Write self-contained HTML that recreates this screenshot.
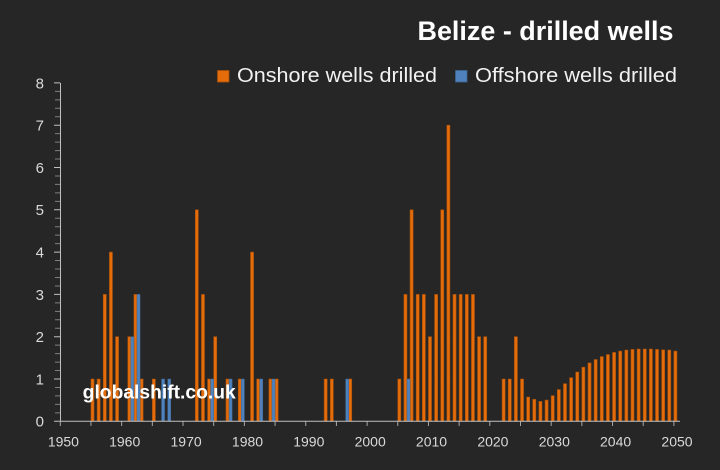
<!DOCTYPE html>
<html><head><meta charset="utf-8"><style>
html,body{margin:0;padding:0;background:#262626;}
svg{display:block;}
text{font-family:"Liberation Sans",sans-serif;}
</style></head><body>
<svg width="720" height="470" viewBox="0 0 720 470" xmlns="http://www.w3.org/2000/svg">
<rect x="0" y="0" width="720" height="470" fill="#262626"/>
<text x="673.5" y="40" text-anchor="end" font-size="27" font-weight="bold" fill="#ffffff" textLength="256" lengthAdjust="spacingAndGlyphs">Belize - drilled wells</text>
<rect x="217.5" y="70.5" width="11.5" height="11.5" fill="#E46C0A" stroke="#A84F08" stroke-width="0.8"/>
<text x="237" y="82" font-size="20" fill="#f2f2f2" textLength="200" lengthAdjust="spacingAndGlyphs">Onshore wells drilled</text>
<rect x="455.5" y="70.5" width="11.5" height="11.5" fill="#4F81BD" stroke="#3C6590" stroke-width="0.8"/>
<text x="475" y="82" font-size="20" fill="#f2f2f2" textLength="202" lengthAdjust="spacingAndGlyphs">Offshore wells drilled</text>
<g font-size="15" fill="#d9d9d9" text-anchor="end">
<text x="44" y="426.7">0</text><text x="44" y="384.4">1</text><text x="44" y="342.1">2</text>
<text x="44" y="299.8">3</text><text x="44" y="257.5">4</text><text x="44" y="215.2">5</text>
<text x="44" y="172.9">6</text><text x="44" y="130.6">7</text><text x="44" y="88.3">8</text>
</g>
<g font-size="14" fill="#d9d9d9" text-anchor="middle">
<text x="63.4" y="446.7">1950</text><text x="124.7" y="446.7">1960</text><text x="186.1" y="446.7">1970</text>
<text x="247.5" y="446.7">1980</text><text x="308.8" y="446.7">1990</text><text x="370.2" y="446.7">2000</text>
<text x="431.5" y="446.7">2010</text><text x="492.9" y="446.7">2020</text><text x="554.3" y="446.7">2030</text>
<text x="615.6" y="446.7">2040</text><text x="677" y="446.7">2050</text>
</g>
<path stroke="#7f7f7f" stroke-width="1" fill="none" d="M55,412.84H60M55,404.38H60M55,395.92H60M55,387.46H60M55,370.54H60M55,362.08H60M55,353.62H60M55,345.16H60M55,328.24H60M55,319.78H60M55,311.32H60M55,302.86H60M55,285.94H60M55,277.48H60M55,269.02H60M55,260.56H60M55,243.64H60M55,235.18H60M55,226.72H60M55,218.26H60M55,201.34H60M55,192.88H60M55,184.42H60M55,175.96H60M55,159.04H60M55,150.58H60M55,142.12H60M55,133.66H60M55,116.74H60M55,108.28H60M55,99.82H60M55,91.36H60"/>
<path stroke="#bfbfbf" stroke-width="1" fill="none" d="M54,421.3H60M54,379H60M54,336.7H60M54,294.4H60M54,252.1H60M54,209.8H60M54,167.5H60M54,125.2H60M54,82.9H60"/>
<path stroke="#a6a6a6" stroke-width="1" fill="none" d="M60.3,421V426M90.98,421V426M121.66,421V426M152.34,421V426M183.02,421V426M213.7,421V426M244.38,421V426M275.06,421V426M305.74,421V426M336.42,421V426M367.1,421V426M397.78,421V426M428.46,421V426M459.14,421V426M489.82,421V426M520.5,421V426M551.18,421V426M581.86,421V426M612.54,421V426M643.22,421V426M673.9,421V426"/>
<path fill="#E46C0A" stroke="#A84F08" stroke-width="0.6" d="M90.98,379h3.07V421.3h-3.07ZM97.12,379h3.07V421.3h-3.07ZM103.25,294.4h3.07V421.3h-3.07ZM109.39,252.1h3.07V421.3h-3.07ZM115.52,336.7h3.07V421.3h-3.07ZM127.8,336.7h3.07V421.3h-3.07ZM133.93,294.4h3.07V421.3h-3.07ZM140.07,379h3.07V421.3h-3.07ZM152.34,379h3.07V421.3h-3.07ZM195.29,209.8h3.07V421.3h-3.07ZM201.43,294.4h3.07V421.3h-3.07ZM207.56,379h3.07V421.3h-3.07ZM213.7,336.7h3.07V421.3h-3.07ZM225.97,379h3.07V421.3h-3.07ZM238.24,379h3.07V421.3h-3.07ZM250.52,252.1h3.07V421.3h-3.07ZM256.65,379h3.07V421.3h-3.07ZM268.92,379h3.07V421.3h-3.07ZM275.06,379h3.07V421.3h-3.07ZM324.15,379h3.07V421.3h-3.07ZM330.28,379h3.07V421.3h-3.07ZM348.69,379h3.07V421.3h-3.07ZM397.78,379h3.07V421.3h-3.07ZM403.92,294.4h3.07V421.3h-3.07ZM410.05,209.8h3.07V421.3h-3.07ZM416.19,294.4h3.07V421.3h-3.07ZM422.32,294.4h3.07V421.3h-3.07ZM428.46,336.7h3.07V421.3h-3.07ZM434.6,294.4h3.07V421.3h-3.07ZM440.73,209.8h3.07V421.3h-3.07ZM446.87,125.2h3.07V421.3h-3.07ZM453,294.4h3.07V421.3h-3.07ZM459.14,294.4h3.07V421.3h-3.07ZM465.28,294.4h3.07V421.3h-3.07ZM471.41,294.4h3.07V421.3h-3.07ZM477.55,336.7h3.07V421.3h-3.07ZM483.68,336.7h3.07V421.3h-3.07ZM502.09,379h3.07V421.3h-3.07ZM508.23,379h3.07V421.3h-3.07ZM514.36,336.7h3.07V421.3h-3.07ZM520.5,379h3.07V421.3h-3.07ZM526.64,397h3.07V421.3h-3.07ZM532.77,399.3h3.07V421.3h-3.07ZM538.91,401.4h3.07V421.3h-3.07ZM545.04,400.1h3.07V421.3h-3.07ZM551.18,395.7h3.07V421.3h-3.07ZM557.32,389.6h3.07V421.3h-3.07ZM563.45,383.7h3.07V421.3h-3.07ZM569.59,377.7h3.07V421.3h-3.07ZM575.72,372h3.07V421.3h-3.07ZM581.86,367.2h3.07V421.3h-3.07ZM588,362.9h3.07V421.3h-3.07ZM594.13,359.5h3.07V421.3h-3.07ZM600.27,356.6h3.07V421.3h-3.07ZM606.4,354.5h3.07V421.3h-3.07ZM612.54,352.4h3.07V421.3h-3.07ZM618.68,351.1h3.07V421.3h-3.07ZM624.81,350h3.07V421.3h-3.07ZM630.95,349.4h3.07V421.3h-3.07ZM637.08,349h3.07V421.3h-3.07ZM643.22,349h3.07V421.3h-3.07ZM649.36,349h3.07V421.3h-3.07ZM655.49,349.4h3.07V421.3h-3.07ZM661.63,349.8h3.07V421.3h-3.07ZM667.76,350h3.07V421.3h-3.07ZM673.9,351.1h3.07V421.3h-3.07Z"/>
<path fill="#4F81BD" stroke="#3C6590" stroke-width="0.5" d="M130.87,336.7h3.07V421.3h-3.07ZM137,294.4h3.07V421.3h-3.07ZM161.55,379h3.07V421.3h-3.07ZM167.68,379h3.07V421.3h-3.07ZM210.63,379h3.07V421.3h-3.07ZM229.04,379h3.07V421.3h-3.07ZM241.31,379h3.07V421.3h-3.07ZM259.72,379h3.07V421.3h-3.07ZM271.99,379h3.07V421.3h-3.07ZM345.62,379h3.07V421.3h-3.07ZM406.99,379h3.07V421.3h-3.07Z"/>
<path stroke="#bfbfbf" stroke-width="1" fill="none" d="M60.5,82.9V421.5M60,421.3H680"/>
<text x="82.7" y="398.3" font-size="19" font-weight="bold" fill="#ffffff" textLength="153" lengthAdjust="spacingAndGlyphs">globalshift.co.uk</text>
</svg>
</body></html>
